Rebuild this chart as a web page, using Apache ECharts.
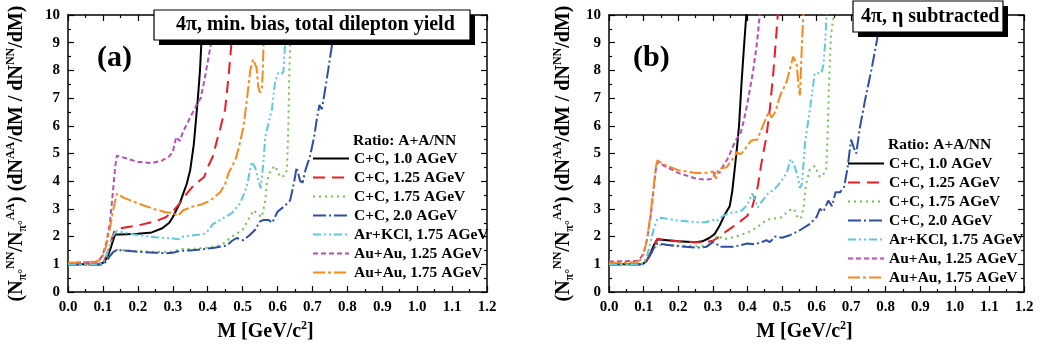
<!DOCTYPE html>
<html><head><meta charset="utf-8">
<script src="https://cdn.jsdelivr.net/npm/echarts@6/dist/echarts.min.js"></script>
<style>html,body{margin:0;padding:0;background:#fff}#c{width:1049px;height:350px}</style>
</head><body><div id="c"></div>
<script>
// ---------- text ----------
const seriesNames = ['C+C, 1.0 AGeV','C+C, 1.25 AGeV','C+C, 1.75 AGeV','C+C, 2.0 AGeV','Ar+KCl, 1.75 AGeV','Au+Au, 1.25 AGeV','Au+Au, 1.75 AGeV'];
const legendTitle = 'Ratio: A+A/NN';
const titleA = '4π, min. bias, total dilepton yield';
const titleB = '4π, η subtracted';
const panelA = '(a)';
const panelB = '(b)';

// ---------- panel (a) data [M, ratio] ----------
const a_cc100 = [[0,1.0],[0.05,1.0],[0.09,1.02],[0.1,1.05],[0.11,1.2],[0.12,1.5],[0.13,1.9],[0.135,2.08],[0.15,2.08],[0.2,2.1],[0.24,2.15],[0.27,2.3],[0.29,2.5],[0.3,2.7],[0.31,2.95],[0.32,3.2],[0.33,3.55],[0.34,3.9],[0.35,4.4],[0.36,5.3],[0.365,6.0],[0.372,7.0],[0.378,8.0],[0.382,9.0],[0.386,10],[0.39,11]];
const a_cc125 = [[0,1.0],[0.09,1.02],[0.1,1.07],[0.11,1.3],[0.12,1.7],[0.13,2.1],[0.135,2.25],[0.15,2.3],[0.2,2.4],[0.25,2.55],[0.28,2.7],[0.3,2.9],[0.32,3.2],[0.34,3.55],[0.36,3.85],[0.38,4.05],[0.39,4.15],[0.4,4.5],[0.415,4.9],[0.425,5.4],[0.436,5.9],[0.45,6.6],[0.46,7.8],[0.469,9.1],[0.475,10],[0.48,11]];
const a_cc175 = [[0,1.0],[0.09,1.0],[0.1,1.03],[0.11,1.15],[0.12,1.3],[0.13,1.45],[0.14,1.52],[0.2,1.48],[0.25,1.45],[0.3,1.45],[0.32,1.55],[0.35,1.55],[0.4,1.6],[0.44,1.7],[0.47,2.0],[0.5,2.25],[0.52,2.7],[0.531,2.95],[0.545,2.8],[0.555,2.7],[0.565,3.3],[0.57,4.0],[0.58,4.4],[0.593,4.55],[0.608,4.15],[0.62,4.2],[0.627,4.4],[0.631,6.0],[0.634,8.0],[0.637,9.2],[0.642,10],[0.65,11]];
const a_cc200 = [[0,1.0],[0.09,0.98],[0.1,1.0],[0.11,1.1],[0.12,1.3],[0.13,1.45],[0.14,1.52],[0.2,1.45],[0.25,1.42],[0.28,1.4],[0.3,1.42],[0.32,1.48],[0.35,1.5],[0.39,1.55],[0.42,1.6],[0.455,1.68],[0.47,1.85],[0.483,1.95],[0.502,1.87],[0.52,2.05],[0.536,2.25],[0.55,2.55],[0.56,2.6],[0.575,2.6],[0.585,2.5],[0.6,2.9],[0.62,3.1],[0.636,3.3],[0.645,3.8],[0.655,4.5],[0.665,4.0],[0.672,3.95],[0.68,4.4],[0.693,4.9],[0.705,5.6],[0.712,6.2],[0.72,6.75],[0.727,6.6],[0.735,7.2],[0.745,8.0],[0.757,9.0],[0.765,10],[0.77,11]];
const a_arkcl = [[0,1.0],[0.09,1.0],[0.1,1.05],[0.11,1.3],[0.12,1.7],[0.13,2.05],[0.14,2.2],[0.16,2.15],[0.2,2.05],[0.25,1.98],[0.3,1.93],[0.32,1.9],[0.33,2.0],[0.36,2.05],[0.39,2.1],[0.4,2.2],[0.415,2.45],[0.436,2.6],[0.469,2.85],[0.493,3.2],[0.512,3.8],[0.526,4.7],[0.536,4.5],[0.545,4.05],[0.552,3.75],[0.559,4.6],[0.565,5.6],[0.584,6.6],[0.593,7.6],[0.602,7.9],[0.61,7.85],[0.617,7.96],[0.622,9.0],[0.626,10],[0.63,11]];
const a_au125 = [[0,1.05],[0.08,1.08],[0.09,1.15],[0.1,1.35],[0.11,1.8],[0.12,2.5],[0.13,3.8],[0.135,4.5],[0.14,4.92],[0.16,4.85],[0.2,4.7],[0.24,4.65],[0.27,4.75],[0.29,4.9],[0.3,5.05],[0.31,5.6],[0.32,5.45],[0.33,5.8],[0.35,6.3],[0.37,6.8],[0.38,7.0],[0.39,7.6],[0.4,8.3],[0.41,9.0],[0.415,9.6],[0.42,10.2]];
const a_au175 = [[0,1.05],[0.08,1.1],[0.09,1.15],[0.1,1.3],[0.11,1.7],[0.12,2.3],[0.13,3.0],[0.14,3.55],[0.16,3.4],[0.2,3.2],[0.25,2.98],[0.28,2.88],[0.3,2.85],[0.315,2.75],[0.33,2.95],[0.36,3.1],[0.38,3.15],[0.407,3.3],[0.436,3.6],[0.45,3.9],[0.46,4.3],[0.474,4.64],[0.48,4.8],[0.489,5.2],[0.503,6.0],[0.512,6.9],[0.522,8.0],[0.53,8.4],[0.54,8.1],[0.545,7.4],[0.55,7.2],[0.555,7.3],[0.558,8.0],[0.56,9.0],[0.563,10],[0.566,11]];

// ---------- panel (b) data [M, ratio] ----------
const b_cc100 = [[0,1.0],[0.09,1.0],[0.1,1.03],[0.11,1.15],[0.12,1.4],[0.13,1.7],[0.14,1.9],[0.16,1.88],[0.2,1.83],[0.25,1.8],[0.27,1.83],[0.29,1.95],[0.306,2.1],[0.32,2.4],[0.335,2.8],[0.349,3.1],[0.356,3.6],[0.364,4.5],[0.37,5.2],[0.376,6.0],[0.383,7.5],[0.39,8.8],[0.397,10],[0.4,11]];
const b_cc125 = [[0,1.0],[0.09,1.0],[0.1,1.03],[0.11,1.15],[0.12,1.4],[0.13,1.7],[0.14,1.92],[0.16,1.88],[0.2,1.83],[0.25,1.8],[0.28,1.8],[0.3,1.85],[0.32,2.0],[0.34,2.2],[0.37,2.45],[0.4,2.75],[0.415,3.1],[0.43,3.8],[0.44,4.6],[0.455,5.6],[0.465,6.6],[0.475,7.9],[0.482,9.0],[0.488,10],[0.492,11]];
const b_cc175 = [[0,1.0],[0.09,1.0],[0.1,1.03],[0.11,1.15],[0.12,1.35],[0.13,1.55],[0.14,1.7],[0.2,1.68],[0.25,1.65],[0.29,1.68],[0.3,1.8],[0.315,2.05],[0.33,1.9],[0.35,1.95],[0.38,2.05],[0.41,2.2],[0.43,2.35],[0.455,2.6],[0.475,2.65],[0.5,2.7],[0.52,2.95],[0.535,3.0],[0.545,2.7],[0.555,2.65],[0.562,3.0],[0.57,3.9],[0.58,4.4],[0.595,4.55],[0.61,4.15],[0.62,4.25],[0.628,4.4],[0.632,5.6],[0.636,7.5],[0.642,9.3],[0.65,10],[0.655,11]];
const b_cc200 = [[0,1.0],[0.09,1.0],[0.1,1.02],[0.11,1.12],[0.12,1.35],[0.13,1.6],[0.14,1.75],[0.2,1.65],[0.25,1.6],[0.28,1.62],[0.3,1.8],[0.31,1.75],[0.32,1.63],[0.36,1.63],[0.4,1.75],[0.42,1.72],[0.437,1.78],[0.455,1.87],[0.465,1.8],[0.48,2.0],[0.5,1.96],[0.523,2.05],[0.552,2.23],[0.58,2.45],[0.6,2.7],[0.61,3.0],[0.62,2.9],[0.634,3.3],[0.645,3.1],[0.655,3.6],[0.668,3.6],[0.68,3.8],[0.69,4.5],[0.7,5.5],[0.708,5.2],[0.715,5.0],[0.725,5.9],[0.74,6.9],[0.76,8.1],[0.775,9.1],[0.785,10],[0.79,11]];
const b_arkcl = [[0,1.0],[0.09,1.0],[0.1,1.05],[0.11,1.3],[0.12,1.8],[0.13,2.3],[0.14,2.65],[0.15,2.68],[0.2,2.58],[0.25,2.52],[0.28,2.52],[0.3,2.6],[0.31,2.55],[0.33,2.75],[0.35,2.85],[0.37,2.9],[0.385,2.95],[0.4,3.15],[0.414,3.56],[0.424,3.3],[0.43,3.05],[0.438,3.2],[0.462,3.6],[0.476,3.67],[0.495,3.95],[0.514,4.3],[0.525,4.8],[0.535,4.6],[0.545,4.2],[0.552,3.75],[0.558,3.9],[0.567,5.4],[0.581,6.6],[0.595,7.9],[0.614,7.9],[0.62,8.2],[0.625,9.0],[0.629,10],[0.633,11]];
const b_au125 = [[0,1.1],[0.08,1.12],[0.09,1.2],[0.1,1.4],[0.11,1.9],[0.12,2.7],[0.13,3.8],[0.135,4.4],[0.14,4.7],[0.16,4.55],[0.2,4.3],[0.25,4.1],[0.28,4.05],[0.3,4.1],[0.31,4.4],[0.32,4.3],[0.33,4.55],[0.345,4.85],[0.36,5.3],[0.37,5.55],[0.38,5.7],[0.39,6.2],[0.4,6.8],[0.417,8.0],[0.428,9.0],[0.436,10],[0.44,11]];
const b_au175 = [[0,1.05],[0.08,1.08],[0.09,1.15],[0.1,1.35],[0.11,1.9],[0.12,2.8],[0.13,3.9],[0.135,4.5],[0.14,4.75],[0.16,4.6],[0.2,4.4],[0.25,4.3],[0.28,4.3],[0.3,4.35],[0.31,4.1],[0.32,4.45],[0.34,4.5],[0.36,4.85],[0.37,5.05],[0.38,4.97],[0.39,5.1],[0.41,5.45],[0.42,5.5],[0.429,5.5],[0.448,6.1],[0.462,6.5],[0.47,6.3],[0.481,6.5],[0.495,7.1],[0.514,7.6],[0.524,8.1],[0.533,8.5],[0.543,8.2],[0.548,7.4],[0.552,7.1],[0.555,8.0],[0.558,9.0],[0.562,10],[0.566,11]];

const panelAData = [a_cc100,a_cc125,a_cc175,a_cc200,a_arkcl,a_au125,a_au175];
const panelBData = [b_cc100,b_cc125,b_cc175,b_cc200,b_arkcl,b_au125,b_au175];

// ---------- styles ----------
const colors = ['#000000','#ec1c24','#6dc24b','#2d4ea5','#5cc9dc','#b54fb6','#f7891f'];
const dashes = ['solid',[12,7],[2,4],[13,3,2,3],[8,3,2,3,2,3],[5,3],[12,3,3,3]];
const F = '"Liberation Serif","Times New Roman",serif';

function xAxisCfg(grid, pos, show) {
  return {
    type:'value', gridIndex:grid, position:pos, min:0, max:1.2, interval:0.1,
    axisLine:{show:true, onZero:false, lineStyle:{color:'#000', width:1.5}},
    axisTick:{show:true, inside:true, length:6, lineStyle:{color:'#000', width:1.2}},
    minorTick:{show:true, splitNumber:2, length:3, lineStyle:{color:'#000', width:1.2}},
    splitLine:{show:false}, minorSplitLine:{show:false},
    axisLabel:{show:show, margin:8, color:'#000', fontSize:15, fontWeight:'bold', fontFamily:F,
      formatter:v=>v.toFixed(1)},
    name: show ? '{t|M [GeV/c}{sup|2}{t|]}' : '',
    nameLocation:'middle', nameGap:27,
    nameTextStyle:{ padding:[0,24,0,0], rich:{
      t:{fontSize:20, fontWeight:'bold', fontFamily:F, color:'#000', lineHeight:24},
      sup:{fontSize:12, fontWeight:'bold', fontFamily:F, color:'#000', verticalAlign:'top', lineHeight:12}
    }}
  };
}
function yAxisCfg(grid, pos, show, gap) {
  return {
    type:'value', gridIndex:grid, position:pos, min:0, max:10, interval:1,
    axisLine:{show:true, onZero:false, lineStyle:{color:'#000', width:1.5}},
    axisTick:{show:true, inside:true, length:6, lineStyle:{color:'#000', width:1.2}},
    minorTick:{show:true, splitNumber:2, length:3, lineStyle:{color:'#000', width:1.2}},
    splitLine:{show:false}, minorSplitLine:{show:false},
    axisLabel:{show:show, margin:8, color:'#000', fontSize:15, fontWeight:'bold', fontFamily:F},
    name: show ? '{t|(N}{sub|π°}{sup|NN}{t|/N}{sub|π°}{sup|AA}{t|) (dN}{sup|AA}{t|/dM / dN}{sup|NN}{t|/dM)}' : '',
    nameLocation:'middle', nameRotate:90, nameGap:gap,
    nameTextStyle:{ rich:{
      t:{fontSize:20, fontWeight:'bold', fontFamily:F, color:'#000', lineHeight:24},
      sup:{fontSize:12, fontWeight:'bold', fontFamily:F, color:'#000', verticalAlign:'top', lineHeight:12},
      sub:{fontSize:12, fontWeight:'bold', fontFamily:F, color:'#000', verticalAlign:'bottom', lineHeight:12}
    }}
  };
}

const series = [];
[panelAData, panelBData].forEach((arr, p) => {
  arr.forEach((d, i) => {
    series.push({
      type:'line', name:seriesNames[i], data:d, xAxisIndex:p*2, yAxisIndex:p*2,
      symbol:'none', clip:true, smooth:false, z:2,
      lineStyle:{color:colors[i], width:2, type:dashes[i]},
      itemStyle:{color:colors[i]}
    });
  });
});

function legendCfg(left, top) {
  return {
    left:left, top:top, orient:'vertical', padding:0,
    itemWidth:36, itemHeight:15, itemGap:3.0, data:seriesNames,
    itemStyle:{color:'transparent', borderWidth:0, opacity:0},
    textStyle:{fontSize:15.5, fontWeight:'bold', fontFamily:F, color:'#000', lineHeight:15}
  };
}
function plainTitle(text, left, top, size) {
  return {text:text, left:left, top:top, padding:0, z:10,
    textStyle:{fontSize:size, fontWeight:'bold', fontFamily:F, color:'#000', lineHeight:size}};
}
// boxes behind the panel titles: [x, y, w, h] in pixels
function boxes(x, y, w, h) {
  return [
    {type:'rect', z:8, shape:{x:x+5, y:y+5, width:w, height:h}, style:{fill:'#000'}},
    {type:'rect', z:9, shape:{x:x, y:y, width:w, height:h}, style:{fill:'#fff', stroke:'#000', lineWidth:1.2}}
  ];
}

const chart = echarts.init(document.getElementById('c'));
chart.setOption({
  animation:false,
  backgroundColor:'#fff',
  grid:[
    {left:68, right:562, top:15, bottom:58},
    {left:609, right:25, top:15, bottom:58}
  ],
  xAxis:[xAxisCfg(0,'bottom',true), xAxisCfg(0,'top',false), xAxisCfg(1,'bottom',true), xAxisCfg(1,'top',false)],
  yAxis:[yAxisCfg(0,'left',true,39), yAxisCfg(0,'right',false,0), yAxisCfg(1,'left',true,33), yAxisCfg(1,'right',false,0)],
  graphic:{elements:[].concat(boxes(154,10,316,30), boxes(853,1,150,31))},
  title:[
    plainTitle(titleA, 176, 15, 20),
    plainTitle(titleB, 861, 6.5, 20),
    plainTitle(panelA, 97, 43, 30),
    plainTitle(panelB, 633, 43, 30),
    plainTitle(legendTitle, 353, 133, 15.5),
    plainTitle(legendTitle, 888, 137, 15.5)
  ],
  legend:[legendCfg(312, 150.5), legendCfg(847, 155.5)],
  series:series
});
</script>
</body></html>
